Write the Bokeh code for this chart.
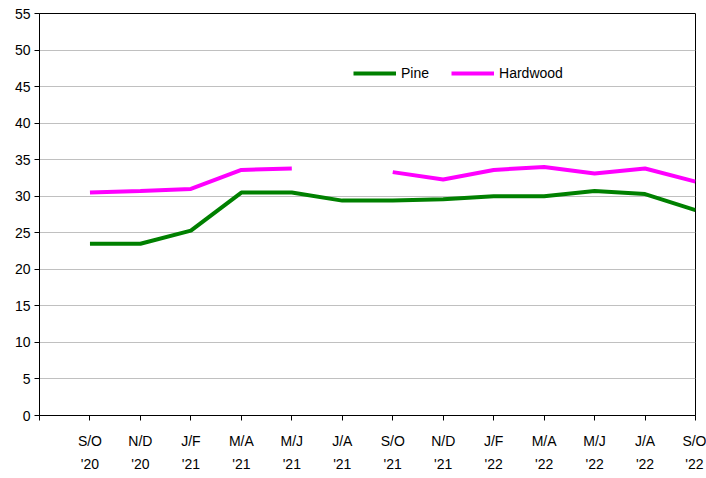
from bokeh.plotting import figure
from bokeh.models import Range1d, FixedTicker, Legend, LegendItem
from bokeh.embed import file_html
from bokeh.resources import INLINE

nan = float("nan")

categories = ["S/O\n'20", "N/D\n'20", "J/F\n'21", "M/A\n'21", "M/J\n'21", "J/A\n'21",
              "S/O\n'21", "N/D\n'21", "J/F\n'22", "M/A\n'22", "M/J\n'22", "J/A\n'22", "S/O\n'22"]
pine = [23.5, 23.5, 25.3, 30.5, 30.5, 29.4, 29.4, 29.6, 30.0, 30.0, 30.7, 30.3, 28.1]
hardwood = [30.5, 30.7, 31.0, 33.6, 33.8, nan, 33.3, 32.3, 33.6, 34.0, 33.1, 33.8, 32.0]
y_ticks = list(range(0, 56, 5))

x = list(range(len(categories)))

p = figure(width=706, height=478, output_backend="svg", toolbar_location=None,
           x_range=Range1d(-1, len(categories) - 1), y_range=Range1d(0, 55),
           min_border_left=39, min_border_right=11, min_border_top=13, min_border_bottom=63)
p.background_fill_color = "white"
p.border_fill_color = "white"
p.outline_line_color = "black"
p.outline_line_width = 1

FONT = "Liberation Sans"

# axes
p.xaxis.ticker = FixedTicker(ticks=[-1] + x)
p.xaxis.major_label_overrides = {i: c for i, c in enumerate(categories)}
p.xaxis.major_label_overrides[-1] = ""
p.yaxis.ticker = FixedTicker(ticks=y_ticks)
for ax in (p.xaxis[0], p.yaxis[0]):
    ax.axis_line_color = "black"
    ax.axis_line_width = 1
    ax.major_tick_line_color = "black"
    ax.major_tick_out = 5
    ax.major_tick_in = 0
    ax.minor_tick_line_color = None
    ax.major_label_text_font = FONT
    ax.major_label_text_font_size = "14px"
    ax.major_label_text_color = "black"
p.xaxis.major_label_text_line_height = 1.45
p.xaxis.major_label_standoff = 12
p.yaxis.major_label_standoff = 4

p.xgrid.grid_line_color = None
p.ygrid.ticker = FixedTicker(ticks=y_ticks)
p.ygrid.grid_line_color = "#c0c0c0"
p.ygrid.grid_line_width = 1

r_pine = p.line(x, pine, line_color="#008000", line_width=4)
r_hard = p.line(x, hardwood, line_color="#ff00ff", line_width=4)

legend = Legend(items=[LegendItem(label="Pine", renderers=[r_pine]),
                       LegendItem(label="Hardwood", renderers=[r_hard])],
                orientation="horizontal", location=(314, 333))
legend.label_text_font = FONT
legend.label_text_font_size = "14px"
legend.label_text_color = "black"
legend.glyph_width = 43
legend.glyph_height = 18
legend.label_standoff = 5
legend.spacing = 22
legend.padding = 9
legend.margin = 0
legend.border_line_color = None
legend.background_fill_color = "white"
legend.background_fill_alpha = 1.0
p.add_layout(legend, "center")

open("out.html", "w").write(file_html(p, INLINE))
